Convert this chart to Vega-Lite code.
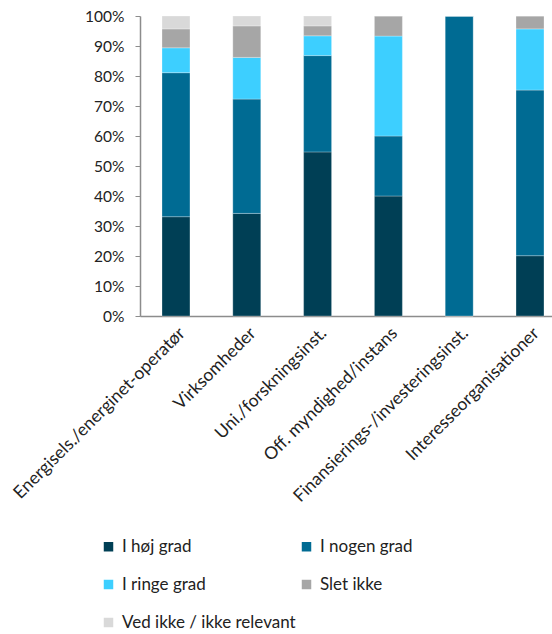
{
  "$schema": "https://vega.github.io/schema/vega-lite/v6.json",
  "width": 412,
  "height": 300,
  "autosize": "none",
  "padding": {"left": 140, "top": 16, "right": 0, "bottom": 318},
  "config": {
    "font": "Lato",
    "view": {"stroke": null},
    "axis": {"labelFont": "Lato", "labelColor": "#222222", "labelFontSize": 15.5}
  },
  "data": {
    "values": [
      {"cat": "Energisels./energinet-operatør", "resp": "I høj grad", "o": 1, "v": 33.1},
      {"cat": "Energisels./energinet-operatør", "resp": "I nogen grad", "o": 2, "v": 48.0},
      {"cat": "Energisels./energinet-operatør", "resp": "I ringe grad", "o": 3, "v": 8.3},
      {"cat": "Energisels./energinet-operatør", "resp": "Slet ikke", "o": 4, "v": 6.3},
      {"cat": "Energisels./energinet-operatør", "resp": "Ved ikke / ikke relevant", "o": 5, "v": 4.3},
      {"cat": "Virksomheder", "resp": "I høj grad", "o": 1, "v": 34.2},
      {"cat": "Virksomheder", "resp": "I nogen grad", "o": 2, "v": 38.1},
      {"cat": "Virksomheder", "resp": "I ringe grad", "o": 3, "v": 13.9},
      {"cat": "Virksomheder", "resp": "Slet ikke", "o": 4, "v": 10.5},
      {"cat": "Virksomheder", "resp": "Ved ikke / ikke relevant", "o": 5, "v": 3.3},
      {"cat": "Uni./forskningsinst.", "resp": "I høj grad", "o": 1, "v": 54.7},
      {"cat": "Uni./forskningsinst.", "resp": "I nogen grad", "o": 2, "v": 32.1},
      {"cat": "Uni./forskningsinst.", "resp": "I ringe grad", "o": 3, "v": 6.6},
      {"cat": "Uni./forskningsinst.", "resp": "Slet ikke", "o": 4, "v": 3.3},
      {"cat": "Uni./forskningsinst.", "resp": "Ved ikke / ikke relevant", "o": 5, "v": 3.3},
      {"cat": "Off. myndighed/instans", "resp": "I høj grad", "o": 1, "v": 40.0},
      {"cat": "Off. myndighed/instans", "resp": "I nogen grad", "o": 2, "v": 20.0},
      {"cat": "Off. myndighed/instans", "resp": "I ringe grad", "o": 3, "v": 33.3},
      {"cat": "Off. myndighed/instans", "resp": "Slet ikke", "o": 4, "v": 6.7},
      {"cat": "Off. myndighed/instans", "resp": "Ved ikke / ikke relevant", "o": 5, "v": 0},
      {"cat": "Finansierings-/investeringsinst.", "resp": "I høj grad", "o": 1, "v": 0},
      {"cat": "Finansierings-/investeringsinst.", "resp": "I nogen grad", "o": 2, "v": 100},
      {"cat": "Finansierings-/investeringsinst.", "resp": "I ringe grad", "o": 3, "v": 0},
      {"cat": "Finansierings-/investeringsinst.", "resp": "Slet ikke", "o": 4, "v": 0},
      {"cat": "Finansierings-/investeringsinst.", "resp": "Ved ikke / ikke relevant", "o": 5, "v": 0},
      {"cat": "Interesseorganisationer", "resp": "I høj grad", "o": 1, "v": 20.1},
      {"cat": "Interesseorganisationer", "resp": "I nogen grad", "o": 2, "v": 55.2},
      {"cat": "Interesseorganisationer", "resp": "I ringe grad", "o": 3, "v": 20.4},
      {"cat": "Interesseorganisationer", "resp": "Slet ikke", "o": 4, "v": 4.3},
      {"cat": "Interesseorganisationer", "resp": "Ved ikke / ikke relevant", "o": 5, "v": 0}
    ]
  },
  "mark": {"type": "bar", "stroke": "#ffffff", "strokeOpacity": 0.35, "strokeWidth": 0.8},
  "encoding": {
    "x": {
      "field": "cat",
      "type": "nominal",
      "sort": null,
      "title": null,
      "scale": {"paddingInner": 0.605, "paddingOuter": 0.212, "align": 0.733},
      "axis": {
        "labelAngle": -45,
        "labelAlign": "right",
        "labelBaseline": "top",
        "labelPadding": 8,
        "labelFontSize": 17.5,
        "ticks": false,
        "domainColor": "#8c8c8c",
        "domainWidth": 1.5,
        "labelLimit": 400
      }
    },
    "y": {
      "field": "v",
      "type": "quantitative",
      "stack": "zero",
      "title": null,
      "scale": {"domain": [0, 100], "nice": false},
      "axis": {
        "values": [0, 10, 20, 30, 40, 50, 60, 70, 80, 90, 100],
        "labelExpr": "datum.value + '%'",
        "grid": false,
        "domainColor": "#8c8c8c",
        "domainWidth": 1.5,
        "tickColor": "#8c8c8c",
        "tickSize": 5,
        "labelPadding": 11
      }
    },
    "order": {"field": "o", "type": "quantitative"},
    "color": {
      "field": "resp",
      "type": "nominal",
      "title": null,
      "scale": {
        "domain": ["I høj grad", "I nogen grad", "I ringe grad", "Slet ikke", "Ved ikke / ikke relevant"],
        "range": ["#003F55", "#006B93", "#3DCFFF", "#A6A6A6", "#D9D9D9"]
      },
      "legend": {
        "orient": "none",
        "legendX": -40,
        "legendY": 522,
        "direction": "horizontal",
        "columns": 2,
        "symbolType": "square",
        "symbolSize": 90,
        "symbolStrokeWidth": 0,
        "labelFontSize": 17,
        "labelColor": "#222222",
        "labelFont": "Lato",
        "rowPadding": 20,
        "columnPadding": 2,
        "labelOffset": 5,
        "labelLimit": 300,
        "gridAlign": "all"
      }
    }
  }
}
